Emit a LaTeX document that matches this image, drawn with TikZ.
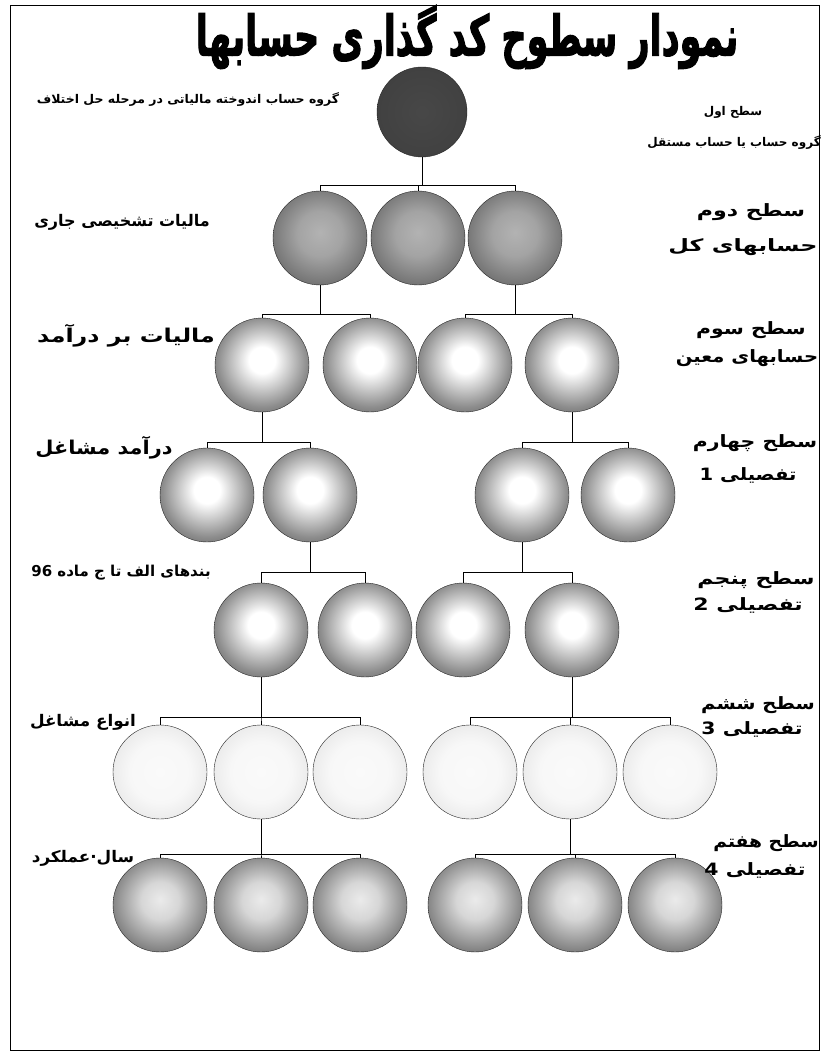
\documentclass[tikz,border=0pt]{standalone}
\usepackage{fontspec}
\usepackage{graphicx}
\usepackage{tikz}
\usetikzlibrary{calc}
\TeXXeTstate=1
\newfontfamily\arabicfont[Script=Arabic]{DejaVu Sans}
\newfontfamily\titlefont[Script=Arabic,FakeBold=2.5]{DejaVu Sans}
\newcommand{\rtlwide}[2]{\scalebox{#1}[1]{\arabicfont\bfseries #2}}

% ball shadings
\pgfdeclareradialshading{orbdark}{\pgfpoint{0bp}{0bp}}{color(0bp)=(black!72); color(40bp)=(black!76); color(50bp)=(black!84)}
\pgfdeclareradialshading{orbmid}{\pgfpoint{0bp}{3bp}}{color(0bp)=(black!30); color(12bp)=(black!36); color(35bp)=(black!66); color(50bp)=(black!84)}
\pgfdeclareradialshading{orbglow}{\pgfpoint{0bp}{3bp}}{color(0bp)=(white); color(7bp)=(white); color(24bp)=(black!45); color(38bp)=(black!72); color(50bp)=(black!85)}
\pgfdeclareradialshading{orbsoft}{\pgfpoint{0bp}{3bp}}{color(0bp)=(black!8); color(10bp)=(black!16); color(30bp)=(black!58); color(50bp)=(black!84)}
\pgfdeclareradialshading{orbpale}{\pgfpoint{0bp}{0bp}}{color(0bp)=(black!2); color(16bp)=(black!3); color(32bp)=(black!11); color(45bp)=(black!25); color(50bp)=(black!38)}

\tikzset{
  orb/.style={circle,draw=black!85,thin,minimum size=94pt,inner sep=0pt},
  lbl/.style={inner sep=0pt,font=\fontsize{14}{16}\selectfont},
  lvl/.style={inner sep=0pt,font=\fontsize{17}{19}\selectfont},
}

\begin{document}
\begin{tikzpicture}[x=1pt,y=-1pt]
\useasboundingbox (0,0) rectangle (824,1056);
\fill[white] (0,0) rectangle (824,1056);
% frame
\draw[semithick] (10,5) rectangle (819,1050);

% title
\node (title) at (467,37) {\fontsize{48}{52}\selectfont\scalebox{0.73}[1.15]{\titlefont\bfseries\beginR نمودار سطوح کد گذاری حسابها\endR}};

% level 1
\node[orb,shading=orbdark,minimum size=90pt] (a) at (422,112) {};
% level 2
\node[orb,shading=orbmid] (b1) at (320,238) {};
\node[orb,shading=orbmid] (b2) at (418,238) {};
\node[orb,shading=orbmid] (b3) at (515,238) {};
% level 3
\node[orb,shading=orbglow] (c1) at (262,365) {};
\node[orb,shading=orbglow] (c2) at (370,365) {};
\node[orb,shading=orbglow] (c3) at (465,365) {};
\node[orb,shading=orbglow] (c4) at (572,365) {};
% level 4
\node[orb,shading=orbglow] (d1) at (207,495) {};
\node[orb,shading=orbglow] (d2) at (310,495) {};
\node[orb,shading=orbglow] (d3) at (522,495) {};
\node[orb,shading=orbglow] (d4) at (628,495) {};
% level 5
\node[orb,shading=orbglow] (e1) at (261,630) {};
\node[orb,shading=orbglow] (e2) at (365,630) {};
\node[orb,shading=orbglow] (e3) at (463,630) {};
\node[orb,shading=orbglow] (e4) at (572,630) {};
% level 6
\foreach \i/\x in {1/160,2/261,3/360,4/470,5/570,6/670}
  \node[orb,shading=orbpale] (f\i) at (\x,772) {};
% level 7
\foreach \i/\x in {1/160,2/261,3/360,4/475,5/575,6/675}
  \node[orb,shading=orbsoft] (g\i) at (\x,905) {};

% connectors
\foreach \c in {b1,b2,b3}
  \draw (a.south) -- ++(0,28) -| (\c.north);
\foreach \c in {c1,c2}
  \draw (b1.south) -- ++(0,29) -| (\c.north);
\foreach \c in {c3,c4}
  \draw (b3.south) -- ++(0,29) -| (\c.north);
\foreach \c in {d1,d2}
  \draw (c1.south) -- ++(0,30) -| (\c.north);
\foreach \c in {d3,d4}
  \draw (c4.south) -- ++(0,30) -| (\c.north);
\foreach \c in {e1,e2}
  \draw (d2.south) -- ++(0,30) -| (\c.north);
\foreach \c in {e3,e4}
  \draw (d3.south) -- ++(0,30) -| (\c.north);
\foreach \c in {f1,f2,f3}
  \draw (e1.south) -- ++(0,40) -| (\c.north);
\foreach \c in {f4,f5,f6}
  \draw (e4.south) -- ++(0,40) -| (\c.north);
\foreach \c in {g1,g2,g3}
  \draw (f2.south) -- ++(0,35) -| (\c.north);
\foreach \c in {g4,g5,g6}
  \draw (f5.south) -- ++(0,35) -| (\c.north);

% left labels
\node[lbl,font=\fontsize{12}{14}\selectfont] (la) at (188,100) {\rtlwide{1.04}{\beginR گروه حساب اندوخته مالیاتی در مرحله حل اختلاف\endR}};
\node[lbl,font=\fontsize{16}{18}\selectfont] (lb) at (122,222) {\rtlwide{1.0}{\beginR مالیات تشخیصی جاری\endR}};
\node[lvl,font=\fontsize{19}{21}\selectfont] (lc) at (126,336) {\rtlwide{1.25}{\beginR مالیات بر درآمد\endR}};
\node[lvl,font=\fontsize{19}{21}\selectfont] (ld) at (104,448) {\rtlwide{1.1}{\beginR درآمد مشاغل\endR}};
\node[lbl,font=\fontsize{15}{17}\selectfont] (le) at (121,573) {\rtlwide{1.0}{\beginR بندهای الف تا ج ماده 96\endR}};
\node[lbl,font=\fontsize{16}{18}\selectfont] (lf) at (83,722) {\rtlwide{1.05}{\beginR انواع مشاغل\endR}};
\node[lbl,font=\fontsize{16}{18}\selectfont] (lg) at (83,858) {\rtlwide{1.05}{\beginR سال·عملکرد\endR}};

% right labels
\node[lbl,font=\fontsize{12}{14}\selectfont] (ra1) at (733,112) {\rtlwide{1.0}{\beginR سطح اول\endR}};
\node[lbl,font=\fontsize{12}{14}\selectfont] (ra2) at (734,143) {\rtlwide{1.0}{\beginR گروه حساب یا حساب مستقل\endR}};
\node[lvl] (rb1) at (751,212) {\rtlwide{1.3}{\beginR سطح دوم\endR}};
\node[lvl] (rb2) at (743,247) {\rtlwide{1.4}{\beginR حسابهای کل\endR}};
\node[lvl] (rc1) at (751,330) {\rtlwide{1.2}{\beginR سطح سوم\endR}};
\node[lvl] (rc2) at (747,358) {\rtlwide{1.15}{\beginR حسابهای معین\endR}};
\node[lvl] (rd1) at (755,443) {\rtlwide{1.2}{\beginR سطح چهارم\endR}};
\node[lvl] (rd2) at (748,475) {\rtlwide{1.15}{\beginR تفصیلی 1\endR}};
\node[lvl] (re1) at (756,580) {\rtlwide{1.3}{\beginR سطح پنجم\endR}};
\node[lvl] (re2) at (748,605) {\rtlwide{1.3}{\beginR تفصیلی 2\endR}};
\node[lvl] (rf1) at (758,705) {\rtlwide{1.15}{\beginR سطح ششم\endR}};
\node[lvl] (rf2) at (752,729) {\rtlwide{1.2}{\beginR تفصیلی 3\endR}};
\node[lvl] (rg1) at (766,843) {\rtlwide{1.1}{\beginR سطح هفتم\endR}};
\node[lvl] (rg2) at (755,870) {\rtlwide{1.2}{\beginR تفصیلی 4\endR}};
\end{tikzpicture}
\end{document}
